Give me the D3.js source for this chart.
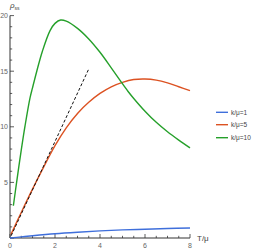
<!DOCTYPE html>
<html><head><meta charset="utf-8">
<script src="https://cdn.jsdelivr.net/npm/d3@7"></script>
<style>body{margin:0;background:#fff}svg{display:block}</style>
</head><body>
<svg id="c" width="257" height="251"></svg>
<script>
const seriesNames = ["k/\u03bc=1", "k/\u03bc=5", "k/\u03bc=10"];
const colors = ["#3f6fdb", "#dc5222", "#25a02a"];
const xBlue = [0, 0.5, 1, 2, 3, 4, 5, 6, 7, 8];
const yBlue = [0, 0.1, 0.2, 0.38, 0.52, 0.64, 0.73, 0.79, 0.85, 0.9];
const xRed = [0.04, 0.5, 1, 1.5, 2, 2.5, 3, 3.5, 4, 4.5, 5, 5.5, 6, 6.5, 7, 7.5, 8];
const yRed = [0.3, 2.3, 4.4, 6.4, 8.3, 9.9, 11.2, 12.2, 13.0, 13.6, 14.0, 14.25, 14.3, 14.2, 13.95, 13.6, 13.25];
const xGreen = [0.15, 0.3, 0.5, 0.67, 0.89, 1.0, 1.19, 1.44, 1.78, 2.0, 2.25, 2.5, 3.0, 3.5, 4, 4.5, 4.9, 5.24, 5.5, 6, 6.5, 7, 7.5, 8];
const yGreen = [2.9, 5.1, 7.9, 10.1, 12.6, 13.5, 15.0, 16.8, 18.65, 19.3, 19.6, 19.5, 18.85, 17.9, 16.7, 15.3, 14.15, 13.2, 12.55, 11.4, 10.4, 9.55, 8.8, 8.1];
const xDash = [0.05, 3.5];
const yDash = [0.2, 15.2];
const xTicks = [0, 2, 4, 6, 8];
const yTicks = [0, 5, 10, 15, 20];

const svg = d3.select("#c");
const x = d3.scaleLinear().domain([0, 8]).range([10, 190]);
const y = d3.scaleLinear().domain([0, 20]).range([238, 15.6]);
const axisColor = "#333";
const labelColor = "#666";

// x axis
const gx = svg.append("g").attr("transform", `translate(0,${y(0)})`);
gx.append("line").attr("x1", x(0)).attr("x2", x(8)).attr("stroke", axisColor).attr("stroke-width", 1);
d3.range(0, 8.01, 0.5).forEach(v => {
  const major = Math.abs(v % 2) < 1e-9;
  gx.append("line").attr("x1", x(v)).attr("x2", x(v)).attr("y1", 0).attr("y2", major ? -4 : -2.2)
    .attr("stroke", axisColor).attr("stroke-width", 0.8);
});
xTicks.forEach(v => {
  gx.append("text").attr("x", x(v)).attr("y", 10).attr("text-anchor", "middle")
    .attr("font-family", "Liberation Sans, Arial, sans-serif").attr("font-size", 7).attr("fill", labelColor).text(v);
});
svg.append("text").attr("x", 197).attr("y", 240.5).attr("font-family", "Liberation Sans, Arial, sans-serif")
  .attr("font-size", 8).attr("fill", "#444").text("T/\u03bc");

// y axis
const gy = svg.append("g").attr("transform", `translate(${x(0)},0)`);
gy.append("line").attr("y1", y(0)).attr("y2", y(20)).attr("stroke", axisColor).attr("stroke-width", 1);
d3.range(0, 20.01, 1).forEach(v => {
  const major = v % 5 === 0;
  gy.append("line").attr("x1", 0).attr("x2", major ? 4 : 2.2).attr("y1", y(v)).attr("y2", y(v))
    .attr("stroke", axisColor).attr("stroke-width", 0.8);
});
yTicks.filter(v => v > 0).forEach(v => {
  gy.append("text").attr("x", -2).attr("y", y(v) + 2.5).attr("text-anchor", "end")
    .attr("font-family", "Liberation Sans, Arial, sans-serif").attr("font-size", 7).attr("fill", labelColor).text(v);
});
const yl = svg.append("text").attr("x", 10).attr("y", 8).attr("font-family", "Liberation Sans, Arial, sans-serif")
  .attr("font-size", 8).attr("fill", "#444");
yl.append("tspan").attr("font-style", "italic").text("\u03c1");
yl.append("tspan").attr("font-size", 5).attr("dy", 2).text("ss");

// curves
const line = d3.line().x(d => x(d[0])).y(d => y(d[1])).curve(d3.curveCatmullRom.alpha(0.5));
const series = [[xBlue, yBlue], [xRed, yRed], [xGreen, yGreen]];
series.forEach((s, i) => {
  const pts = s[0].map((xv, j) => [xv, s[1][j]]);
  svg.append("path").attr("d", line(pts)).attr("fill", "none").attr("stroke", colors[i]).attr("stroke-width", 1.4);
});
svg.append("path").attr("d", d3.line().x(d => x(d[0])).y(d => y(d[1]))(xDash.map((xv, j) => [xv, yDash[j]])))
  .attr("fill", "none").attr("stroke", "#111").attr("stroke-width", 1).attr("stroke-dasharray", "3,2");

// legend
const legY = [112.3, 124.7, 137.7];
seriesNames.forEach((n, i) => {
  svg.append("line").attr("x1", 216).attr("x2", 228).attr("y1", legY[i]).attr("y2", legY[i])
    .attr("stroke", colors[i]).attr("stroke-width", 1.4);
  svg.append("text").attr("x", 231).attr("y", legY[i] + 2.5).attr("font-family", "Liberation Sans, Arial, sans-serif")
    .attr("font-size", 6.5).attr("fill", "#444").text(n);
});
</script>
</body></html>
